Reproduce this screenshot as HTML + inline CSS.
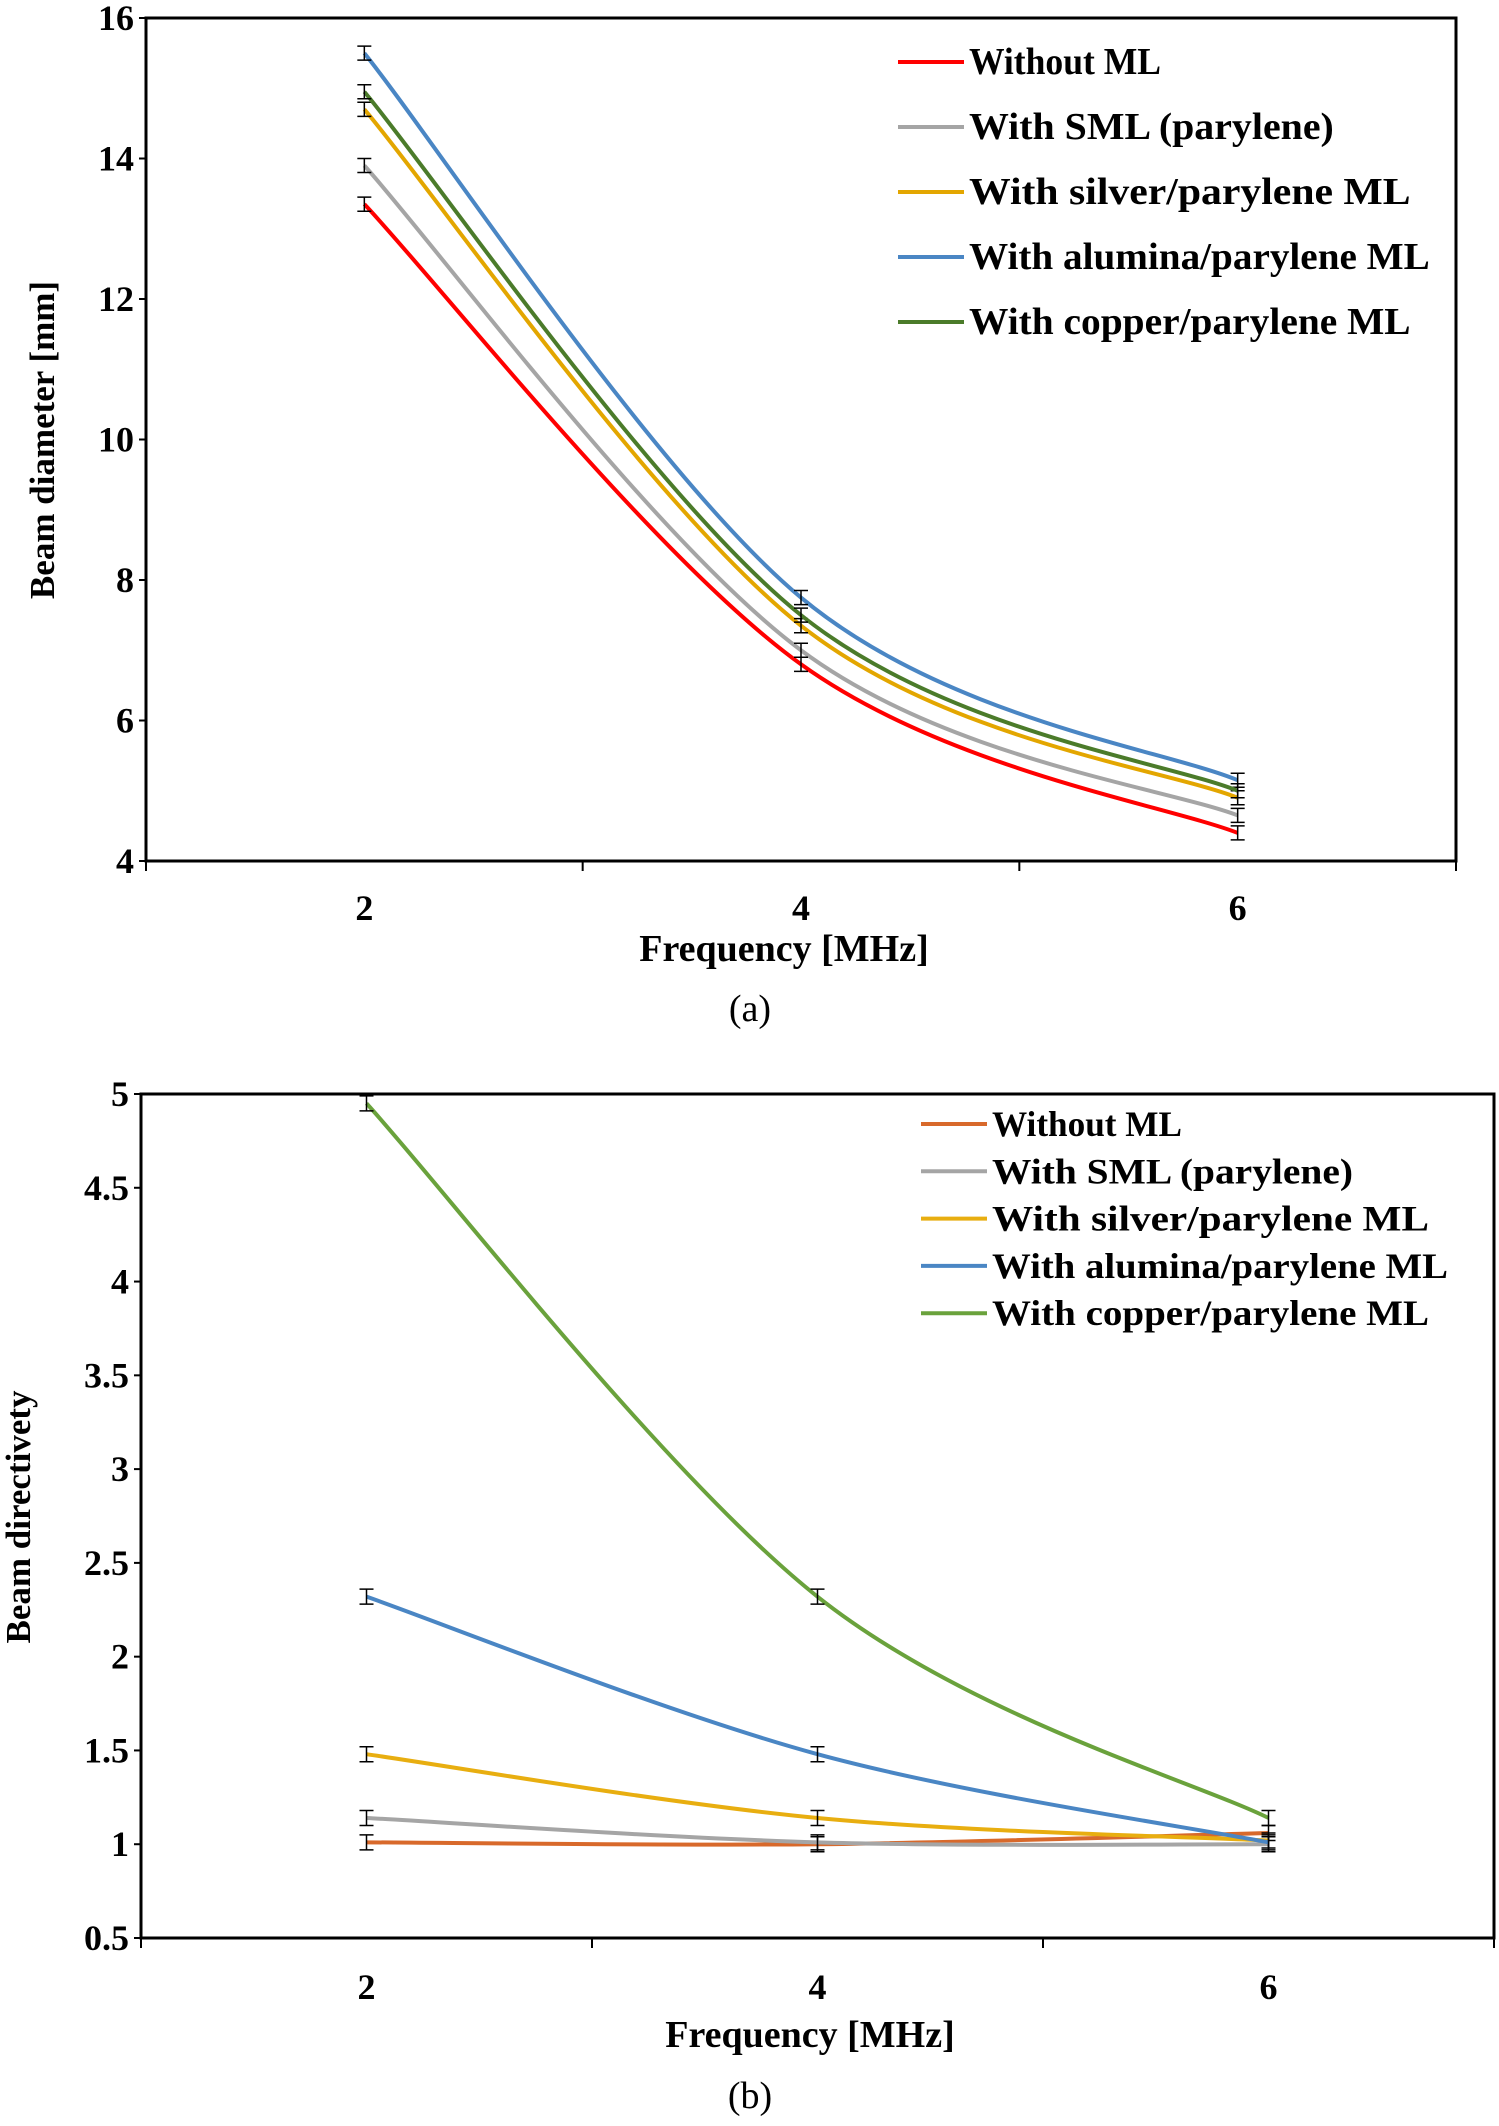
<!DOCTYPE html>
<html><head><meta charset="utf-8"><style>
html,body{margin:0;padding:0;background:#fff}
svg{display:block}
text{font-family:"Liberation Serif",serif;font-weight:bold;fill:#000}
</style></head><body>
<svg id="s" width="1499" height="2126" viewBox="0 0 1499 2126" xmlns="http://www.w3.org/2000/svg"></svg>
<script>
const freqs=[2,4,6];
const seriesNames=["Without ML","With SML (parylene)","With silver/parylene ML","With alumina/parylene ML","With copper/parylene ML"];
const aWithout=[13.35,6.8,4.4];
const aSML=[13.9,7.0,4.65];
const aSilver=[14.7,7.35,4.9];
const aAlumina=[15.5,7.75,5.15];
const aCopper=[14.95,7.5,5.0];
const aErr=0.1;
const aTicks=[4,6,8,10,12,14,16];
const bWithout=[1.01,1.0,1.06];
const bSML=[1.14,1.01,1.0];
const bSilver=[1.48,1.14,1.02];
const bAlumina=[2.32,1.48,1.01];
const bCopper=[4.95,2.32,1.14];
const bErr=0.04;
const bTicks=[0.5,1,1.5,2,2.5,3,3.5,4,4.5,5];
const xTicks=[2,4,6];

const NS="http://www.w3.org/2000/svg";
const svg=document.getElementById('s');
function mk(tag,attrs,parent,txt){const e=document.createElementNS(NS,tag);for(const k in attrs)e.setAttribute(k,attrs[k]);if(txt!==undefined)e.textContent=txt;(parent||svg).appendChild(e);return e;}
function smooth(pts){let d="M"+pts[0][0]+","+pts[0][1];for(let i=0;i<pts.length-1;i++){const p0=pts[Math.max(0,i-1)],p1=pts[i],p2=pts[i+1],p3=pts[Math.min(pts.length-1,i+2)];const c1=[p1[0]+(p2[0]-p0[0])/6,p1[1]+(p2[1]-p0[1])/6];const c2=[p2[0]-(p3[0]-p1[0])/6,p2[1]-(p3[1]-p1[1])/6];d+=" C"+c1+" "+c2+" "+p2;}return d;}

function chart(cfg){
  const g=mk('g',{});
  
  
  const X=v=>cfg.x0+(v-1)/6*(cfg.x1-cfg.x0);
  const Y=v=>cfg.y1-(v-cfg.ymin)/(cfg.ymax-cfg.ymin)*(cfg.y1-cfg.y0);
  const fr=mk('rect',{x:cfg.x0,y:cfg.y0,width:cfg.x1-cfg.x0,height:cfg.y1-cfg.y0,fill:'none',stroke:'#000','stroke-width':3},g);
  
  cfg.ticks.forEach(t=>{const y=Y(t);
    mk('line',{x1:cfg.x0-7,x2:cfg.x0,y1:y,y2:y,stroke:'#000','stroke-width':2},g);
    const tl=mk('text',{x:cfg.x0-12,y:y+12,'text-anchor':'end','font-size':36},g,String(t));
    });
  for(let k=1;k<=7;k+=2){mk('line',{x1:X(k),x2:X(k),y1:cfg.y1,y2:cfg.y1+10,stroke:'#000','stroke-width':2},g);}
  xTicks.forEach(t=>{const tl=mk('text',{x:X(t),y:cfg.xly,'text-anchor':'middle','font-size':36},g,String(t));
    });
  cfg.series.forEach((s,i)=>{
    const pts=freqs.map((f,j)=>[X(f),Y(s[j])]);
    const p=mk('path',{d:smooth(pts),fill:'none',stroke:cfg.colors[i],'stroke-width':4},g);
    
    freqs.forEach((f,j)=>{const x=X(f),ya=Y(s[j]+cfg.err),yb=Y(s[j]-cfg.err);
      const e=mk('path',{d:`M${x},${ya}V${yb}M${x-7},${ya}H${x+7}M${x-7},${yb}H${x+7}`,stroke:'#000','stroke-width':1.5,fill:'none'},g);
      });
  });
  seriesNames.forEach((n,i)=>{const y=cfg.ly0+i*cfg.ldy;
    const le=mk('g',{},g);
    mk('line',{x1:cfg.lx,x2:cfg.lx+66,y1:y,y2:y,stroke:cfg.colors[i],'stroke-width':4},le);
    mk('text',{x:cfg.lx+71,y:y+12,'font-size':cfg.lfs,textLength:n.length*cfg.lcw,lengthAdjust:'spacingAndGlyphs'},le,n);});
  const xt=mk('text',{x:cfg.xtx,y:cfg.xty,'text-anchor':'middle','font-size':38},g,'Frequency [MHz]');
  
  const yt=mk('text',{x:0,y:0,'text-anchor':'middle','font-size':35,transform:`translate(${cfg.ytx},${cfg.yty}) rotate(-90)`},g,cfg.ytitle);
  
  const cap=mk('text',{x:750,y:cfg.capy,'text-anchor':'middle','font-size':38,style:'font-weight:normal'},g,cfg.cap);
  
}
chart({name:'chart-a',x0:146,x1:1456,y0:18,y1:861,ymin:4,ymax:16,ticks:aTicks,xly:920,
  series:[aWithout,aSML,aSilver,aAlumina,aCopper],err:aErr,
  colors:['#ff0000','#a5a5a5','#e3a600','#4a86c4','#4b7b2a'],
  lx:898,ly0:62,ldy:65,lfs:38,lcw:19.2,xtx:784,xty:961,ytx:54,yty:440,ytitle:'Beam diameter  [mm]',capy:1021,cap:'(a)'});
chart({name:'chart-b',x0:141,x1:1494,y0:1094,y1:1938,ymin:0.5,ymax:5,ticks:bTicks,xly:1999,
  series:[bWithout,bSML,bSilver,bAlumina,bCopper],err:bErr,
  colors:['#d8692b','#a5a5a5','#e8ae10','#4a86c4','#6aa23c'],
  lx:921,ly0:1124,ldy:47.3,lfs:36,lcw:19.0,xtx:810,xty:2047,ytx:30,yty:1517,ytitle:'Beam directivety',capy:2108,cap:'(b)'});
</script>
</body></html>
